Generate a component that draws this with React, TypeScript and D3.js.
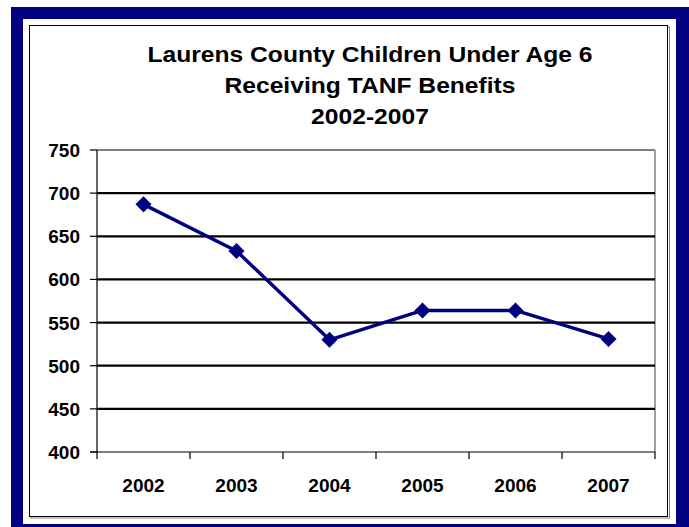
import React from "react";
import * as d3 from "d3";

const years = ["2002", "2003", "2004", "2005", "2006", "2007"];
const values = [687, 633, 530, 564, 564, 531];
const yTicks = [400, 450, 500, 550, 600, 650, 700, 750];
const titleLines = [
  "Laurens County Children Under Age 6",
  "Receiving TANF Benefits",
  "2002-2007",
];

export default function App() {
  const W = 689, H = 527;
  const left = 97, right = 655, top = 150, bottom = 452;
  const x = d3.scaleBand<string>().domain(years).range([left, right]);
  const y = d3.scaleLinear().domain([400, 750]).range([bottom, top]);
  const line = d3
    .line<number>()
    .x((_, i) => (x(years[i]) as number) + x.bandwidth() / 2)
    .y((d) => y(d));
  const diamond = d3.symbol().type(d3.symbolDiamond2 ?? d3.symbolDiamond).size(165)();
  const font = "'Liberation Sans', Arial, sans-serif";
  const navy = "#000080";
  return (
    <svg width={W} height={H} style={{ position: "absolute", left: 0, top: 0 }} fontFamily={font}>
      <rect x={0} y={0} width={W} height={H} fill="#fff" />
      <rect x={11} y={7} width={W - 11} height={H - 7} fill={navy} />
      <rect x={23} y={19} width={653} height={505} fill="#fff" />
      {/* chart area border with shadow */}
      <rect x={31} y={27} width={638.5} height={491} fill="none" stroke="#808080" strokeWidth={1} />
      <rect x={29.5} y={25.5} width={638} height={491} fill="#fff" stroke="#000" strokeWidth={1} />
      {titleLines.map((t, i) => (
        <text
          key={i}
          transform={`translate(370,${62 + i * 31}) scale(1.12,1)`}
          textAnchor="middle"
          fontSize={22}
          fontWeight="bold"
          fill="#000"
        >
          {t}
        </text>
      ))}
      {/* plot frame top & right */}
      <line x1={left} x2={right} y1={top} y2={top} stroke="#808080" strokeWidth={2} />
      <line x1={right} x2={right} y1={top} y2={bottom} stroke="#808080" strokeWidth={1.5} />
      {yTicks.filter((t) => t !== 400 && t !== 750).map((t) => (
        <line key={t} x1={left} x2={right} y1={y(t)} y2={y(t)} stroke="#000" strokeWidth={2.2} />
      ))}
      {/* axes */}
      <line x1={left} x2={left} y1={top} y2={bottom + 0.5} stroke="#000" strokeWidth={1.2} />
      <line x1={left - 7} x2={right} y1={bottom} y2={bottom} stroke="#000" strokeWidth={1.2} />
      {yTicks.map((t) => (
        <g key={t}>
          <line x1={left - 7} x2={left} y1={y(t)} y2={y(t)} stroke="#000" strokeWidth={1.2} />
          <text x={80} y={y(t) + 7} textAnchor="end" fontSize={19} fontWeight="bold" fill="#000">
            {t}
          </text>
        </g>
      ))}
      {years.map((yr, i) => (
        <line key={"tk" + i} x1={left + i * x.bandwidth()} x2={left + i * x.bandwidth()} y1={bottom} y2={bottom + 7} stroke="#000" strokeWidth={1.2} />
      ))}
      <line x1={right} x2={right} y1={bottom} y2={bottom + 7} stroke="#000" strokeWidth={1.2} />
      {years.map((yr) => (
        <text key={yr} x={(x(yr) as number) + x.bandwidth() / 2} y={492} textAnchor="middle" fontSize={19} fontWeight="bold" fill="#000">
          {yr}
        </text>
      ))}
      <path d={line(values) ?? ""} fill="none" stroke={navy} strokeWidth={3.4} strokeLinejoin="round" />
      {values.map((v, i) => (
        <path
          key={i}
          d={diamond ?? ""}
          transform={`translate(${(x(years[i]) as number) + x.bandwidth() / 2},${y(v)})`}
          fill={navy}
        />
      ))}
    </svg>
  );
}
